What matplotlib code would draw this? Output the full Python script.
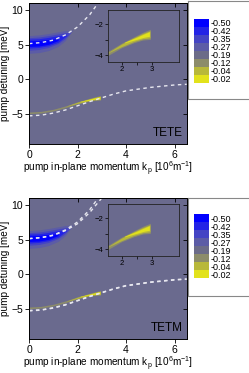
import matplotlib
matplotlib.use("Agg")
import matplotlib.pyplot as plt
import numpy as np

plt.rcParams['font.family'] = ['Liberation Sans', 'DejaVu Sans']
plt.rcParams['mathtext.fontset'] = 'custom'
plt.rcParams['mathtext.rm'] = 'Liberation Sans'
plt.rcParams['mathtext.it'] = 'Liberation Sans'

# ---- data ----
levels = ["-0.50", "-0.42", "-0.35", "-0.27", "-0.19", "-0.12", "-0.04", "-0.02"]
level_colors = ["#0000ff", "#2323e6", "#4444c4", "#5c5ca6", "#6c6c88", "#8c8c6a", "#b8b83a", "#e2e21c"]
bg_color = "#6a6a8e"
panel_names = ["TETE", "TETM"]

# upper (cavity-like) branch, dashed
up_k = [0, 0.5, 1.0, 1.5, 2.0, 2.5, 2.85, 3.0]
up_E = [5.15, 5.3, 5.65, 6.4, 7.55, 9.3, 11.0, 11.8]
up2_k = [0, 0.5, 1.0, 1.5, 2.0, 2.5, 3.0, 3.2]
up2_E = [5.15, 5.3, 5.62, 6.3, 7.3, 8.9, 11.0, 11.9]
# lower (polariton) branch, dashed
lo_k = [0, 0.5, 1.0, 1.5, 2.0, 2.5, 3.0, 3.5, 4.0, 5.0, 6.0, 6.5]
lo_E = [-5.25, -5.15, -4.85, -4.4, -3.8, -3.2, -2.65, -2.1, -1.65, -1.15, -0.8, -0.7]
lo2_E = [-5.2, -5.1, -4.8, -4.35, -3.75, -3.15, -2.6, -2.05, -1.6, -1.1, -0.75, -0.65]

# blue region bands (level index, k, lower, upper)
blue_bands = [
    (3, [0, 0.4, 0.8, 1.2, 1.5, 1.8], [3.75, 3.85, 4.15, 4.75, 5.6, 7.05], [6.3, 6.4, 6.6, 6.85, 7.05, 7.1]),
    (2, [0, 0.4, 0.8, 1.2, 1.5, 1.7], [4.2, 4.3, 4.6, 5.15, 5.9, 6.7], [6.0, 6.1, 6.3, 6.55, 6.75, 6.75]),
    (1, [0, 0.4, 0.8, 1.2, 1.55], [4.5, 4.6, 4.85, 5.35, 6.3], [5.8, 5.85, 6.05, 6.3, 6.4]),
    (0, [0, 0.4, 0.8, 1.2], [4.75, 4.8, 5.05, 5.6], [5.55, 5.6, 5.75, 5.85]),
]
# yellow region bands
yellow_bands = [
    (5, [0, 0.5, 1.0, 1.5, 2.0, 2.4, 2.7, 2.95],
        [-4.94, -4.84, -4.54, -4.08, -3.52, -3.2, -3.02, -2.98],
        [-4.7, -4.6, -4.3, -3.82, -3.22, -2.82, -2.52, -2.32]),
    (6, [1.55, 2.0, 2.4, 2.7, 2.94],
        [-3.86, -3.45, -3.12, -2.94, -2.88],
        [-3.84, -3.28, -2.88, -2.6, -2.42]),
    (7, [2.1, 2.5, 2.75, 2.92],
        [-3.2, -2.98, -2.84, -2.78],
        [-3.16, -2.84, -2.62, -2.48]),
]

W, H = 249, 373
fig = plt.figure(figsize=(W / 100, H / 100), dpi=100)

def fx(px): return px / W
def fy(py): return 1 - py / H

panel_top_px = [3, 198]
inset_top_px = [10, 204]
box_top_px = [1, 198]
swatch_top_px = [19, 214]

def draw_regions(ax):
    for lvl, k, lo, hi in blue_bands:
        ax.fill_between(k, lo, hi, color=level_colors[lvl], lw=0)
    for lvl, k, lo, hi in yellow_bands:
        ax.fill_between(k, lo, hi, color=level_colors[lvl], lw=0)

for i, name in enumerate(panel_names):
    t = panel_top_px[i]
    ax = fig.add_axes([fx(29), fy(t + 141), fx(186.7 - 29), 141 / H])
    ax.set_facecolor(bg_color)
    draw_regions(ax)
    dash = dict(color="#e8e8f0", lw=1.0, dashes=(2.5, 2.5))
    ax.plot(up_k, up_E, **dash)
    ax.plot(lo_k, lo_E, **dash)
    if i == 1:
        ax.plot(up2_k, up2_E, **dash)
        ax.plot(lo_k, lo2_E, **dash)
    ax.set_xlim(0, 6.5)
    ax.set_ylim(-9.3, 11)
    ax.set_xticks([0, 2, 4, 6])
    ax.set_yticks([-5, 0, 5, 10])
    ax.tick_params(labelsize=7.5, length=3, width=0.6, direction='out', pad=1.2)
    for side in ('right', 'top'):
        sec = ax.secondary_yaxis('right') if side == 'right' else ax.secondary_xaxis('top')
        if side == 'right':
            sec.set_yticks([-5, 0, 5, 10])
            sec.set_yticklabels([])
        else:
            sec.set_xticks([0, 2, 4, 6])
            sec.set_xticklabels([])
        sec.tick_params(direction='in', length=3, width=0.6)
        sec.spines[side].set_linewidth(0.7)
    for sp in ax.spines.values():
        sp.set_linewidth(0.7)
    ax.set_xlabel("pump in-plane momentum k$_\\mathregular{p}$ [10$^\\mathregular{6}$m$^\\mathregular{-1}$]",
                  fontsize=7.2, labelpad=0.3)
    ax.set_ylabel("pump detuning [meV]", fontsize=7.2, labelpad=1)
    ax.text(0.975, 0.035, name, transform=ax.transAxes, ha='right', va='bottom',
            fontsize=8.5, color='black')

    # inset
    it = inset_top_px[i]
    ins = fig.add_axes([fx(108), fy(it + 52), fx(71), 52 / H])
    ins.set_facecolor(bg_color)
    draw_regions(ins)
    ins.set_xlim(1.55, 3.9)
    ins.set_ylim(-4.45, -1.07)
    ins.set_xticks([2, 3])
    ins.set_yticks([-2, -4])
    ins.set_xticks([2.5], minor=True)
    ins.set_yticks([-3], minor=True)
    ins.tick_params(which='both', labelsize=5.5, length=2, width=0.5, pad=1)
    for sp in ins.spines.values():
        sp.set_linewidth(0.6)
        sp.set_color("#222222")

    # legend box
    bt = box_top_px[i]
    box = fig.add_axes([fx(188), fy(bt + 98), fx(70), 98 / H])
    box.set_xticks([])
    box.set_yticks([])
    box.set_facecolor("white")
    for sp in box.spines.values():
        sp.set_linewidth(0.8)
        sp.set_color("#888888")
    st = swatch_top_px[i]
    sw = fig.add_axes([fx(194), fy(st + 64), fx(15), 64 / H])
    ypos = np.arange(len(levels))
    sw.barh(ypos, 1, height=1.0, color=level_colors, left=0)
    sw.set_xlim(0, 1)
    sw.set_ylim(len(levels) - 0.5, -0.5)
    sw.set_xticks([])
    sw.set_yticks(ypos)
    sw.set_yticklabels(levels)
    sw.yaxis.tick_right()
    sw.tick_params(length=0, labelsize=6.5, pad=1.5)
    for sp in sw.spines.values():
        sp.set_visible(False)

fig.savefig("out.png", dpi=100)
